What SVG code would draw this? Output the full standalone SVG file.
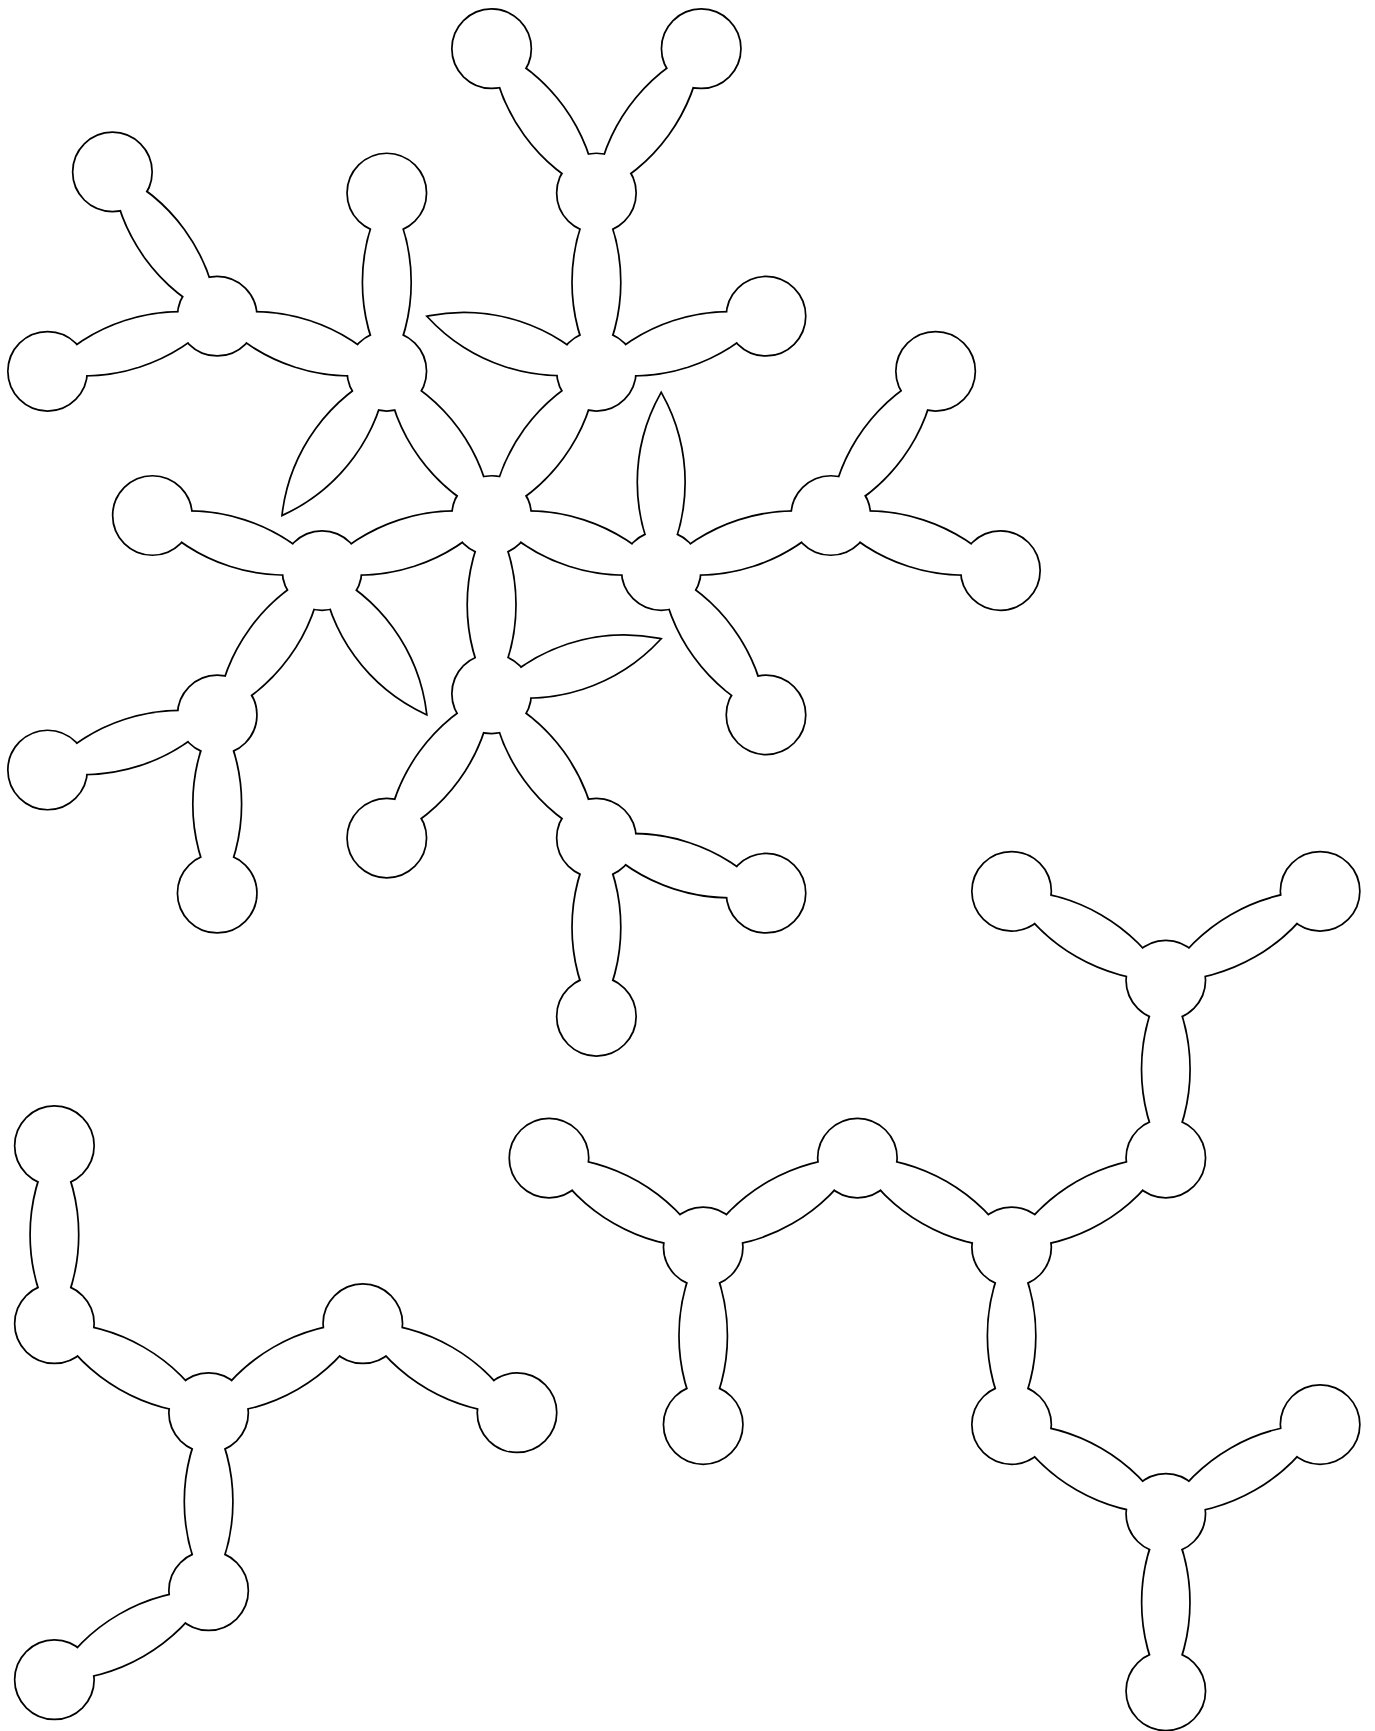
<svg xmlns="http://www.w3.org/2000/svg" width="1375" height="1731" viewBox="0 0 1375 1731">
<style>
.outline{fill:#fff;stroke:#000;stroke-width:3.4;stroke-linejoin:miter}
.cover{fill:#fff;stroke:none}
</style>
<rect width="1375" height="1731" fill="#fff"/>
<g class="outline">
<g id="connectors">
<path d="M491.6 515.5A180.5 180.5 0 0 1 596.4 371.3A180.5 180.5 0 0 1 491.6 515.5Z"/>
<path d="M491.6 515.5A180.5 180.5 0 0 1 386.8 371.3A180.5 180.5 0 0 1 491.6 515.5Z"/>
<path d="M491.6 515.5A180.5 180.5 0 0 1 322 570.6A180.5 180.5 0 0 1 491.6 515.5Z"/>
<path d="M491.6 515.5A180.5 180.5 0 0 1 661.2 570.6A180.5 180.5 0 0 1 491.6 515.5Z"/>
<path d="M491.6 515.5A180.5 180.5 0 0 1 491.6 693.8A180.5 180.5 0 0 1 491.6 515.5Z"/>
<path d="M596.4 371.3A180.5 180.5 0 0 1 428.4 316.7A180.5 180.5 0 0 1 596.4 371.3Z"/>
<path d="M596.4 371.3A180.5 180.5 0 0 1 766 316.2A180.5 180.5 0 0 1 596.4 371.3Z"/>
<path d="M596.4 371.3A180.5 180.5 0 0 1 596.4 193A180.5 180.5 0 0 1 596.4 371.3Z"/>
<path d="M596.4 193A180.5 180.5 0 0 1 491.6 48.7A180.5 180.5 0 0 1 596.4 193Z"/>
<path d="M596.4 193A180.5 180.5 0 0 1 701.2 48.7A180.5 180.5 0 0 1 596.4 193Z"/>
<path d="M386.8 371.3A180.5 180.5 0 0 1 283 514.1A180.5 180.5 0 0 1 386.8 371.3Z"/>
<path d="M386.8 371.3A180.5 180.5 0 0 1 386.8 193A180.5 180.5 0 0 1 386.8 371.3Z"/>
<path d="M386.8 371.3A180.5 180.5 0 0 1 217.2 316.2A180.5 180.5 0 0 1 386.8 371.3Z"/>
<path d="M217.2 316.2A180.5 180.5 0 0 1 47.6 371.3A180.5 180.5 0 0 1 217.2 316.2Z"/>
<path d="M217.2 316.2A180.5 180.5 0 0 1 112.4 171.9A180.5 180.5 0 0 1 217.2 316.2Z"/>
<path d="M322 570.6A180.5 180.5 0 0 1 425.8 713.4A180.5 180.5 0 0 1 322 570.6Z"/>
<path d="M322 570.6A180.5 180.5 0 0 1 152.4 515.5A180.5 180.5 0 0 1 322 570.6Z"/>
<path d="M322 570.6A180.5 180.5 0 0 1 217.2 714.9A180.5 180.5 0 0 1 322 570.6Z"/>
<path d="M217.2 714.9A180.5 180.5 0 0 1 47.6 770A180.5 180.5 0 0 1 217.2 714.9Z"/>
<path d="M217.2 714.9A180.5 180.5 0 0 1 217.2 893.2A180.5 180.5 0 0 1 217.2 714.9Z"/>
<path d="M491.6 693.8A180.5 180.5 0 0 1 659.6 639.2A180.5 180.5 0 0 1 491.6 693.8Z"/>
<path d="M491.6 693.8A180.5 180.5 0 0 1 386.8 838.1A180.5 180.5 0 0 1 491.6 693.8Z"/>
<path d="M491.6 693.8A180.5 180.5 0 0 1 596.4 838.1A180.5 180.5 0 0 1 491.6 693.8Z"/>
<path d="M596.4 838.1A180.5 180.5 0 0 1 766 893.2A180.5 180.5 0 0 1 596.4 838.1Z"/>
<path d="M596.4 838.1A180.5 180.5 0 0 1 596.4 1016.4A180.5 180.5 0 0 1 596.4 838.1Z"/>
<path d="M661.2 570.6A180.5 180.5 0 0 1 661.2 394A180.5 180.5 0 0 1 661.2 570.6Z"/>
<path d="M661.2 570.6A180.5 180.5 0 0 1 830.8 515.5A180.5 180.5 0 0 1 661.2 570.6Z"/>
<path d="M661.2 570.6A180.5 180.5 0 0 1 766 714.9A180.5 180.5 0 0 1 661.2 570.6Z"/>
<path d="M830.8 515.5A180.5 180.5 0 0 1 935.6 371.3A180.5 180.5 0 0 1 830.8 515.5Z"/>
<path d="M830.8 515.5A180.5 180.5 0 0 1 1000.4 570.6A180.5 180.5 0 0 1 830.8 515.5Z"/>
<path d="M1165.8 980.2A180.5 180.5 0 0 1 1011.6 891.3A180.5 180.5 0 0 1 1165.8 980.2Z"/>
<path d="M1165.8 980.2A180.5 180.5 0 0 1 1320.1 891.3A180.5 180.5 0 0 1 1165.8 980.2Z"/>
<path d="M1165.8 980.2A180.5 180.5 0 0 1 1165.8 1158.1A180.5 180.5 0 0 1 1165.8 980.2Z"/>
<path d="M1165.8 1158.1A180.5 180.5 0 0 1 1011.6 1246.9A180.5 180.5 0 0 1 1165.8 1158.1Z"/>
<path d="M1011.6 1246.9A180.5 180.5 0 0 1 857.4 1158.1A180.5 180.5 0 0 1 1011.6 1246.9Z"/>
<path d="M857.4 1158.1A180.5 180.5 0 0 1 703.2 1246.9A180.5 180.5 0 0 1 857.4 1158.1Z"/>
<path d="M703.2 1246.9A180.5 180.5 0 0 1 549 1158.1A180.5 180.5 0 0 1 703.2 1246.9Z"/>
<path d="M703.2 1246.9A180.5 180.5 0 0 1 703.2 1424.6A180.5 180.5 0 0 1 703.2 1246.9Z"/>
<path d="M1011.6 1246.9A180.5 180.5 0 0 1 1011.6 1424.6A180.5 180.5 0 0 1 1011.6 1246.9Z"/>
<path d="M1011.6 1424.6A180.5 180.5 0 0 1 1165.8 1513.4A180.5 180.5 0 0 1 1011.6 1424.6Z"/>
<path d="M1165.8 1513.4A180.5 180.5 0 0 1 1320.1 1424.6A180.5 180.5 0 0 1 1165.8 1513.4Z"/>
<path d="M1165.8 1513.4A180.5 180.5 0 0 1 1165.8 1690.9A180.5 180.5 0 0 1 1165.8 1513.4Z"/>
<path d="M54.4 1145.7A180.5 180.5 0 0 1 54.4 1323.7A180.5 180.5 0 0 1 54.4 1145.7Z"/>
<path d="M54.4 1323.7A180.5 180.5 0 0 1 208.6 1412.7A180.5 180.5 0 0 1 54.4 1323.7Z"/>
<path d="M208.6 1412.7A180.5 180.5 0 0 1 362.8 1323.7A180.5 180.5 0 0 1 208.6 1412.7Z"/>
<path d="M362.8 1323.7A180.5 180.5 0 0 1 517 1412.7A180.5 180.5 0 0 1 362.8 1323.7Z"/>
<path d="M208.6 1412.7A180.5 180.5 0 0 1 208.6 1590.7A180.5 180.5 0 0 1 208.6 1412.7Z"/>
<path d="M208.6 1590.7A180.5 180.5 0 0 1 54.4 1679.7A180.5 180.5 0 0 1 208.6 1590.7Z"/>
</g>
<g id="nodes">
<g id="n1"><circle cx="596.4" cy="371.3" r="38.9"/></g>
<g id="n2"><circle cx="386.8" cy="371.3" r="38.9"/></g>
<g id="n3"><circle cx="322" cy="570.6" r="38.9"/></g>
<g id="n4"><circle cx="661.2" cy="570.6" r="38.9"/></g>
<g id="n5"><circle cx="491.6" cy="693.8" r="38.9"/></g>
<g id="n6"><circle cx="491.6" cy="515.5" r="38.9"/></g>
<g id="n7"><circle cx="766" cy="316.2" r="38.9"/></g>
<g id="n8"><circle cx="596.4" cy="193" r="38.9"/></g>
<g id="n9"><circle cx="491.6" cy="48.7" r="38.9"/></g>
<g id="n10"><circle cx="701.2" cy="48.7" r="38.9"/></g>
<g id="n11"><circle cx="386.8" cy="193" r="38.9"/></g>
<g id="n12"><circle cx="217.2" cy="316.2" r="38.9"/></g>
<g id="n13"><circle cx="47.6" cy="371.3" r="38.9"/></g>
<g id="n14"><circle cx="112.4" cy="171.9" r="38.9"/></g>
<g id="n15"><circle cx="152.4" cy="515.5" r="38.9"/></g>
<g id="n16"><circle cx="217.2" cy="714.9" r="38.9"/></g>
<g id="n17"><circle cx="47.6" cy="770" r="38.9"/></g>
<g id="n18"><circle cx="217.2" cy="893.2" r="38.9"/></g>
<g id="n19"><circle cx="386.8" cy="838.1" r="38.9"/></g>
<g id="n20"><circle cx="596.4" cy="838.1" r="38.9"/></g>
<g id="n21"><circle cx="766" cy="893.2" r="38.9"/></g>
<g id="n22"><circle cx="596.4" cy="1016.4" r="38.9"/></g>
<g id="n23"><circle cx="830.8" cy="515.5" r="38.9"/></g>
<g id="n24"><circle cx="935.6" cy="371.3" r="38.9"/></g>
<g id="n25"><circle cx="1000.4" cy="570.6" r="38.9"/></g>
<g id="n26"><circle cx="766" cy="714.9" r="38.9"/></g>
<g id="n27"><circle cx="1011.6" cy="891.3" r="38.9"/></g>
<g id="n28"><circle cx="1320.1" cy="891.3" r="38.9"/></g>
<g id="n29"><circle cx="1165.8" cy="980.2" r="38.9"/></g>
<g id="n30"><circle cx="1165.8" cy="1158.1" r="38.9"/></g>
<g id="n31"><circle cx="1011.6" cy="1246.9" r="38.9"/></g>
<g id="n32"><circle cx="857.4" cy="1158.1" r="38.9"/></g>
<g id="n33"><circle cx="703.2" cy="1246.9" r="38.9"/></g>
<g id="n34"><circle cx="549" cy="1158.1" r="38.9"/></g>
<g id="n35"><circle cx="703.2" cy="1424.6" r="38.9"/></g>
<g id="n36"><circle cx="1011.6" cy="1424.6" r="38.9"/></g>
<g id="n37"><circle cx="1165.8" cy="1513.4" r="38.9"/></g>
<g id="n38"><circle cx="1320.1" cy="1424.6" r="38.9"/></g>
<g id="n39"><circle cx="1165.8" cy="1690.9" r="38.9"/></g>
<g id="n40"><circle cx="54.4" cy="1145.7" r="38.9"/></g>
<g id="n41"><circle cx="54.4" cy="1323.7" r="38.9"/></g>
<g id="n42"><circle cx="208.6" cy="1412.7" r="38.9"/></g>
<g id="n43"><circle cx="362.8" cy="1323.7" r="38.9"/></g>
<g id="n44"><circle cx="517" cy="1412.7" r="38.9"/></g>
<g id="n45"><circle cx="208.6" cy="1590.7" r="38.9"/></g>
<g id="n46"><circle cx="54.4" cy="1679.7" r="38.9"/></g>
</g>
</g>
<use href="#connectors" class="cover"/>
<use href="#nodes" class="cover"/>
</svg>
